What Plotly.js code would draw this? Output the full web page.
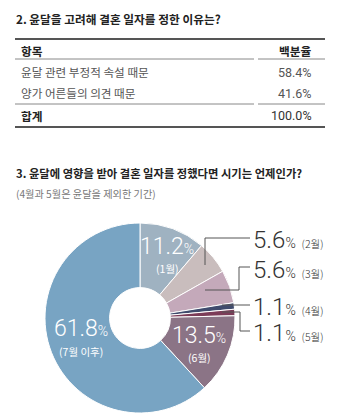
<!DOCTYPE html>
<html><head><meta charset="utf-8">
<script src="https://cdn.plot.ly/plotly-3.0.1.min.js"></script>
<style>body{margin:0;background:#fff}#c{width:350px;height:419px}</style>
</head><body><div id="c"></div>
<script>
// ---- data ----
const tableTitle = "2. 윤달을 고려해 결혼 일자를 정한 이유는?";
const tableHeader = ["항목", "백분율"];
const tableItems = ["윤달 관련 부정적 속설 때문", "양가 어른들의 의견 때문"];
const tableValues = [58.4, 41.6];
const tableTotalLabel = "합계";
const tableTotal = 100.0;

const pieTitle = "3. 윤달에 영향을 받아 결혼 일자를 정했다면 시기는 언제인가?";
const pieSubtitle = "(4월과 5월은 윤달을 제외한 기간)";
const months = ["1월", "2월", "3월", "4월", "5월", "6월", "7월 이후"];
const shares = [11.2, 5.6, 5.6, 1.1, 1.1, 13.5, 61.8];
const colors = ["#9fb2c1", "#c9bdbd", "#c4a9ba", "#3f4b6d", "#7c3c58", "#8b7486", "#78a4c3"];

// ---- layout helpers ----
const W = 350, H = 419;
const px = x => x / W, py = y => 1 - y / H;
const kr = '"Noto Sans CJK KR", "Noto Sans", sans-serif';
const num = 'Roboto, "DejaVu Sans Condensed", sans-serif';

const ann = [];
const shapes = [];
function txt(x, y, text, opt) {
  ann.push(Object.assign({xref:'paper', yref:'paper', x:px(x), y:py(y), text:text,
    showarrow:false, xanchor:'left', yanchor:'middle',
    font:{family:kr, size:12, color:'#333'}}, opt||{}));
}
function line(x0, y0, x1, y1, w, c) {
  shapes.push({type:'line', xref:'paper', yref:'paper', x0:px(x0), y0:py(y0), x1:px(x1), y1:py(y1),
    line:{color:c, width:w}});
}
function path(pts, c) {
  const d = pts.map((p, i) => (i ? 'L' : 'M') + px(p[0]) + ',' + py(p[1])).join(' ');
  shapes.push({type:'path', xref:'paper', yref:'paper', path:d, line:{color:c, width:1}});
}

// table
txt(14, 18, '<b>' + tableTitle + '</b>', {font:{family:kr, size:11.7, color:'#222'}});
line(15, 39, 325, 39, 2, '#555');
txt(19, 50, '<b>' + tableHeader[0] + '</b>', {font:{family:kr, size:11.7, color:'#222'}});
txt(314, 50, '<b>' + tableHeader[1] + '</b>', {xanchor:'right', font:{family:kr, size:11.7, color:'#222'}});
line(15, 59, 254, 59, 1, '#888'); line(258, 59, 325, 59, 1, '#888');
const rowY = [72, 93];
tableItems.forEach((t, i) => {
  txt(19, rowY[i], t, {font:{family:kr, size:11.6, color:'#555'}});
  txt(314, rowY[i], tableValues[i].toFixed(1) + '%', {xanchor:'right', font:{family:'Roboto, sans-serif', size:12.5, color:'#555'}});
});
line(15, 104, 254, 104, 1, '#888'); line(258, 104, 325, 104, 1, '#888');
txt(19, 115, '<b>' + tableTotalLabel + '</b>', {font:{family:kr, size:11.7, color:'#222'}});
txt(314, 115, tableTotal.toFixed(1) + '%', {xanchor:'right', font:{family:'Roboto, sans-serif', size:12.5, color:'#333'}});
line(15, 127, 325, 127, 2, '#555');

// pie titles
txt(14, 173, '<b>' + pieTitle + '</b>', {font:{family:kr, size:11.3, color:'#222'}});
txt(14, 193, pieSubtitle, {font:{family:kr, size:10.2, color:'#777'}});

// inside labels
const inside = {0:[167, 246, 268], 5:[199, 335, 357], 6:[81, 328, 351]};
Object.keys(inside).forEach(k => {
  const [x, y, y2] = inside[k];
  txt(x, y, shares[k].toFixed(1) + '<span style="font-size:14px">%</span>',
    {xanchor:'center', font:{family:num, size:23, weight:300, color:'#fff'}});
  txt(x, y2, '(' + months[k] + ')', {xanchor:'center', font:{family:kr, size:10.5, color:'#fff'}});
});

// outside labels
const outside = {1:240, 2:270, 3:307, 4:333};
Object.keys(outside).forEach(k => {
  txt(251, outside[k], shares[k].toFixed(1) + '<span style="font-size:14px">%</span> <span style="font-size:10.5px;font-family:Noto Sans CJK KR">(' + months[k] + ')</span>',
    {font:{family:num, size:24, weight:300, color:'#333'}});
});
// leader lines
path([[205, 265], [205, 238], [250, 238]], '#555');
path([[205, 290], [239, 290], [239, 267], [250, 267]], '#555');
path([[222, 305], [250, 305]], '#555');
path([[222, 312], [240, 312], [240, 331], [250, 331]], '#555');

const trace = {
  type:'pie', labels:months, values:shares, sort:false, direction:'clockwise', rotation:0,
  hole:0.32, textinfo:'none', hoverinfo:'label+percent',
  marker:{colors:colors, line:{color:'#fff', width:1}},
  domain:{x:[(140-95)/W, (140+95)/W], y:[(101-95)/H, (101+95)/H]},
  showlegend:false
};

Plotly.newPlot('c', [trace], {
  width:W, height:H, margin:{l:0, r:0, t:0, b:0},
  paper_bgcolor:'#fff', annotations:ann, shapes:shapes, showlegend:false
}, {staticPlot:true});
</script></body></html>
